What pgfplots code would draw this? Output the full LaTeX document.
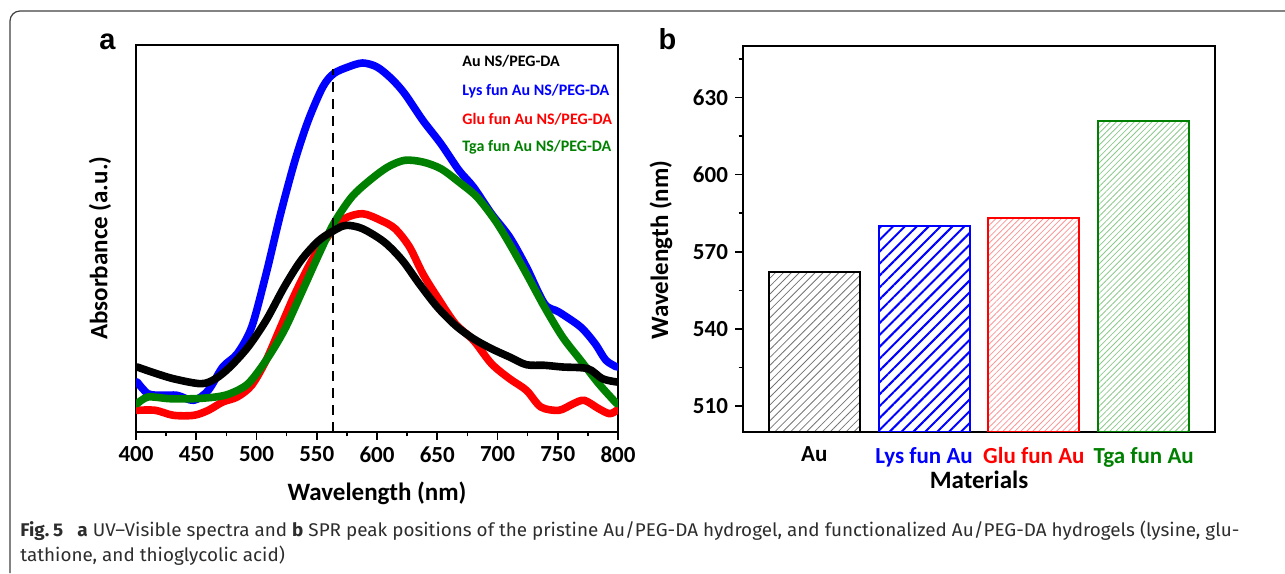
\documentclass[border=0pt]{standalone}
\usepackage{fontspec}
\setmainfont{Carlito}
\newfontfamily\panelfont{Liberation Sans}
\newfontfamily\capfont[FakeStretch=0.8]{Fira Sans}
\usepackage{graphicx}
\usepackage{pgfplots}
\pgfplotsset{compat=1.18}
\usetikzlibrary{patterns.meta}
\definecolor{cblue}{RGB}{0,0,255}
\definecolor{cred}{RGB}{255,0,0}
\definecolor{cgreen}{RGB}{0,128,0}
\definecolor{hred}{RGB}{250,150,150}
\definecolor{hgreen}{RGB}{140,200,140}
\definecolor{capgray}{RGB}{45,45,45}
\newsavebox\capA
\newlength\capw
\begin{document}
\sbox\capA{\capfont\fontsize{9.2}{11}\selectfont\color{capgray}\textbf{Fig.\,5}\hspace{0.6em}\textbf{a} UV–Visible spectra and \textbf{b} SPR peak positions of the pristine Au/PEG-DA hydrogel, and functionalized Au/PEG-DA hydrogels (lysine, glu-}%
\setlength\capw{\wd\capA}%
\begin{tikzpicture}[x=0.5pt,y=0.5pt]
\useasboundingbox (0,0) rectangle (1285,573);
\draw[black!75, line width=0.6pt, rounded corners=5pt] (10,0) -- (10,562) -- (1285,562);
\pgfplotsset{
  every axis/.append style={
    scale only axis,
    anchor=south west,
    axis line style={line width=1pt},
    every tick/.style={black, line width=0.8pt},
    tick align=outside,
    ticklabel style={font=\fontsize{11.5}{13}\selectfont\bfseries},
    label style={font=\fontsize{12.5}{14}\selectfont\bfseries},
    /pgf/number format/assume math mode=true,
  }
}
% ---------------- panel a ----------------
\begin{axis}[
  at={(68pt,70.5pt)},
  width=241pt, height=193.5pt,
  xmin=400, xmax=800, ymin=0, ymax=387,
  xtick={400,450,...,800},
  minor xtick={425,475,...,775},
  xtick pos=lower,
  ytick=\empty,
  major tick length=3.8pt, minor tick length=2.2pt,
  xlabel={Wavelength (nm)},
  ylabel={Absorbance (a.u.)},
  xlabel style={at={(axis description cs:0.5,-0.158)}, anchor=center},
  ylabel style={at={(axis description cs:-0.0747,0.475)}, anchor=center, rotate=0},
  every axis plot/.append style={line width=3.8pt, line join=round, line cap=round},
]
\addplot[cblue, smooth] coordinates {
(401,50) (410,38.3) (422,36.7) (434,36.7) (448,31.7) (460,41.7) (472,65) (484,78.3)
(496,105) (508,158.3) (520,218.3) (532,271.7) (543,311.7) (555,345) (564,358.3)
(576,365) (588,369) (600,365) (612,353.3) (623,338.3) (638,311.7) (653,288.3)
(668,261.7) (680,245) (695,218.3) (710,195) (724,165) (739,128.3) (751,120)
(769,105) (781,88.3) (790,71.7) (799,65)};
\addplot[cred, smooth] coordinates {
(401,21.7) (416,21.7) (431,16.7) (448,16.7) (460,21.7) (472,30) (484,35) (496,46.7)
(508,71.7) (520,105) (532,138.3) (546,171.7) (561,198.3) (573,213.3) (588,218.3)
(603,211.7) (615,203.3) (627,185) (638,158.3) (650,135) (665,108.3) (680,91.7)
(695,68.3) (710,53.3) (724,41.7) (736,25) (751,21.7) (763,28.3) (772,31.7)
(784,23.3) (793,18.3) (799,21.7)};
\addplot[cgreen, smooth] coordinates {
(401,28.3) (410,35) (428,33.3) (448,33.3) (466,35) (478,38.3) (493,48.3) (508,71.7)
(523,101.7) (537,138.3) (552,178.3) (564,208.3) (579,235) (594,251.7) (609,265)
(623,271.7) (638,270) (653,263.3) (668,250) (683,235) (698,211.7) (710,188.3)
(724,158.3) (739,125) (754,95) (769,71.7) (784,48.3) (799,28.3)};
\addplot[black, smooth] coordinates {
(401,65) (413,60) (431,53.3) (454,48.3) (466,53.3) (478,65) (493,85) (508,111.7)
(523,145) (537,171.7) (552,191.7) (567,203.3) (575,206.7) (588,203.3) (606,190)
(621,171.7) (635,148.3) (650,125) (665,106.7) (680,93.3) (695,83.3) (710,75)
(724,67.3) (739,66.7) (754,65) (775,63.3) (787,53.3) (799,50)};
\addplot[black, line width=1.3pt, line cap=butt, dash pattern=on 5pt off 3.5pt] coordinates {(563.5,0) (563.5,363)};
\end{axis}
% ---------------- panel b ----------------
\begin{axis}[
  at={(371.5pt,70.5pt)},
  width=236pt, height=193pt,
  xmin=0.35, xmax=4.65, ymin=500, ymax=650,
  xtick={1,2,3,4},
  xticklabels={Au,\textcolor{cblue}{Lys fun Au},\textcolor{cred}{Glu fun Au},\textcolor{cgreen}{Tga fun Au}},
  x tick style={draw=none},
  xtick pos=lower,
  ytick={510,540,...,630},
  minor ytick={525,555,585,615,645},
  ytick pos=left,
  major tick length=4pt, minor tick length=2.2pt,
  xlabel={Materials},
  ylabel={Wavelength (nm)},
  xlabel style={at={(axis description cs:0.5,-0.1244)}, anchor=center},
  ylabel style={at={(axis description cs:-0.1737,0.4715)}, anchor=center},
]
\addplot[ybar, bar width=0.83, bar shift=0pt, draw=black, line width=1pt,
  pattern={Lines[angle=45,distance=2.8pt,line width=0.4pt]}, pattern color=black!55] coordinates {(1,562)};
\addplot[ybar, bar width=0.83, bar shift=0pt, draw=cblue, line width=1pt,
  pattern={Lines[angle=45,distance=4.2pt,line width=1pt]}, pattern color=cblue] coordinates {(2,580)};
\addplot[ybar, bar width=0.83, bar shift=0pt, draw=cred, line width=1pt,
  pattern={Lines[angle=45,distance=2.1pt,line width=0.4pt]}, pattern color=hred] coordinates {(3,583)};
\addplot[ybar, bar width=0.83, bar shift=0pt, draw=cgreen, line width=1pt,
  pattern={Lines[angle=45,distance=2.1pt,line width=0.4pt]}, pattern color=hgreen] coordinates {(4,621)};
\end{axis}
% legend of panel a
\begin{scope}[every node/.style={anchor=west, inner sep=0pt, font=\fontsize{8}{9}\selectfont\bfseries}]
\node[text=black]  at (462,573-61.7) {Au NS/PEG-DA};
\node[text=cblue]  at (462,573-90.7) {Lys fun Au NS/PEG-DA};
\node[text=cred]   at (462,573-119) {Glu fun Au NS/PEG-DA};
\node[text=cgreen] at (462,573-147.3) {Tga fun Au NS/PEG-DA};
\end{scope}
% panel letters
\node[anchor=base, inner sep=0pt, font=\panelfont\fontsize{14.5}{16}\selectfont\bfseries] at (107.5,573-50) {a};
\node[anchor=base, inner sep=0pt, font=\panelfont\fontsize{14.5}{16}\selectfont\bfseries] at (667.5,573-50) {b};
% caption
\pgfmathsetmacro\capscale{609.5/\capw}
\node[anchor=base west, inner sep=0pt] at (20,36) {\scalebox{\capscale}[1]{\usebox\capA}};
\node[anchor=base west, inner sep=0pt] at (20,11) {\scalebox{\capscale}[1]{\capfont\fontsize{9.2}{11}\selectfont\color{capgray}tathione, and thioglycolic acid)}};
\end{tikzpicture}
\end{document}
